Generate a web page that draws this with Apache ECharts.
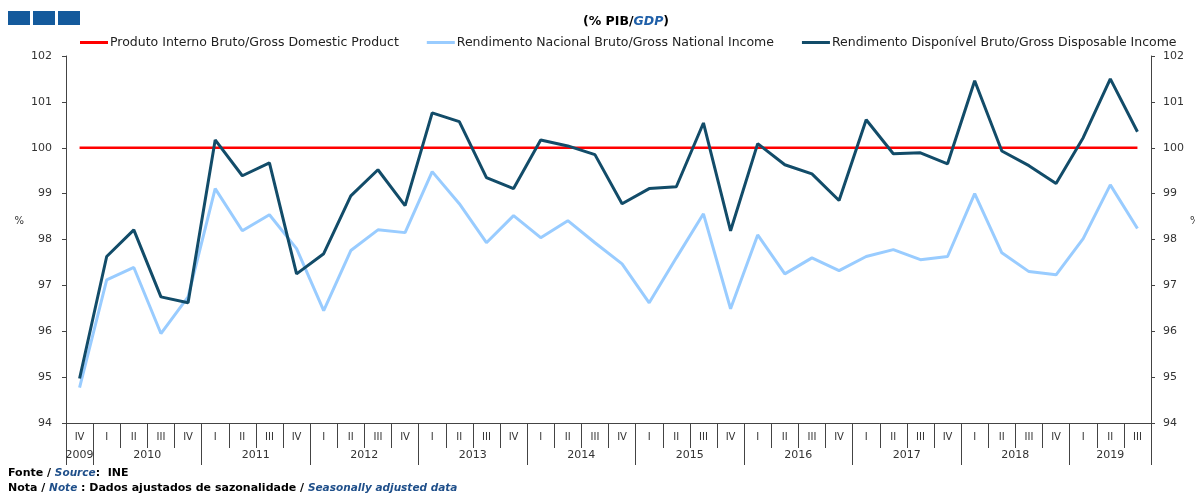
<!DOCTYPE html>
<html>
<head>
<meta charset="utf-8">
<script src="https://cdn.jsdelivr.net/npm/echarts@6/dist/echarts.min.js"></script>
<style>
  html, body { margin: 0; padding: 0; background: #fff; }
  #chart { width: 1195px; height: 494px; }
</style>
</head>
<body>
<div id="chart"></div>
<script>
// quarters 2009 IV .. 2019 III
const quarters = ['IV',
  'I','II','III','IV', 'I','II','III','IV', 'I','II','III','IV',
  'I','II','III','IV', 'I','II','III','IV', 'I','II','III','IV',
  'I','II','III','IV', 'I','II','III','IV', 'I','II','III','IV',
  'I','II','III']
const years = ['2009','2010','2011','2012','2013','2014','2015','2016','2017','2018','2019']
const yearStart = [0, 1, 5, 9, 13, 17, 21, 25, 29, 33, 37]

const gdp = quarters.map(() => 100)
const gni = [94.77,
  97.12, 97.39, 95.95, 96.75,
  99.11, 98.19, 98.54, 97.8,
  96.45, 97.76, 98.21, 98.15,
  99.48, 98.78, 97.93, 98.52,
  98.04, 98.41, 97.93, 97.47,
  96.62, 97.6, 98.56, 96.49,
  98.1, 97.25, 97.6, 97.32,
  97.63, 97.78, 97.56, 97.63,
  99.0, 97.71, 97.3, 97.23,
  98.02, 99.19, 98.24]
const gdi = [94.97,
  97.63, 98.21, 96.75, 96.62,
  100.17, 99.39, 99.67, 97.25,
  97.69, 98.95, 99.52, 98.74,
  100.76, 100.57, 99.35, 99.11,
  100.17, 100.04, 99.85, 98.78,
  99.11, 99.15, 100.54, 98.19,
  100.09, 99.63, 99.43, 98.85,
  100.61, 99.87, 99.89, 99.65,
  101.46, 99.93, 99.61, 99.22,
  100.22, 101.5, 100.35]

// year label sits under quarter II for full years, centred for partial ones
const yearLabels = quarters.map(() => '')
years.forEach((y, i) => {
  const s = yearStart[i]
  const n = (i + 1 < yearStart.length ? yearStart[i + 1] : quarters.length) - s
  if (n === 4) yearLabels[s + 1] = '{s|' + y + '}'
  else yearLabels[s + Math.floor(n / 2)] = '{c|' + y + '}'
})

const font = 'DejaVu Sans, sans-serif'
const axisColor = '#444'

const chart = echarts.init(document.getElementById('chart'))
chart.setOption({
  animation: false,
  textStyle: { fontFamily: font },
  title: [
    {
      text: '{a|(% PIB/}{b|GDP}{a|)}',
      left: 583, top: 15, padding: 0,
      textStyle: {
        rich: {
          a: { fontSize: 12.5, color: '#000', fontFamily: font },
          b: { fontSize: 12.5, color: '#1f5fa8', fontStyle: 'italic', fontWeight: 'bold', fontFamily: font }
        }
      }
    },
    {
      text: '{a|Fonte / }{b|Source}{a|:  INE}\n{a|Nota / }{b|Note}{a| : Dados ajustados de sazonalidade / }{b|Seasonally adjusted data}',
      left: 8, top: 466, padding: 0,
      textStyle: {
        rich: {
          a: { fontSize: 11, fontWeight: 'bold', color: '#000', fontFamily: font, lineHeight: 15 },
          b: { fontSize: 10.5, fontWeight: 'bold', fontStyle: 'italic', color: '#1f4f8a', fontFamily: font, lineHeight: 15 }
        }
      }
    }
  ],
  graphic: [
    { type: 'rect', left: 8, top: 11, shape: { width: 22, height: 14 }, style: { fill: '#145a9c' } },
    { type: 'rect', left: 33, top: 11, shape: { width: 22, height: 14 }, style: { fill: '#145a9c' } },
    { type: 'rect', left: 58, top: 11, shape: { width: 22, height: 14 }, style: { fill: '#145a9c' } }
  ],
  legend: {
    top: 31, left: 75,
    itemWidth: 28, itemHeight: 3, itemGap: 28,
    icon: 'rect',
    textStyle: { fontSize: 12.5, color: '#222', padding: [0, 0, 0, -3] },
    data: ['Produto Interno Bruto/Gross Domestic Product',
      'Rendimento Nacional Bruto/Gross National Income',
      'Rendimento Disponível Bruto/Gross Disposable Income']
  },
  grid: { left: 66, right: 44, top: 56, bottom: 71, outerBoundsMode: 'none', containLabel: false },
  xAxis: [
    {
      type: 'category', position: 'bottom', data: quarters,
      axisLine: { lineStyle: { color: axisColor } },
      axisTick: { show: true, length: 25, lineStyle: { color: axisColor } },
      axisLabel: { interval: 0, fontSize: 10, color: '#333', margin: 9 }
    },
    {
      type: 'category', position: 'bottom', data: yearLabels,
      axisLine: { show: false },
      axisTick: {
        show: true, length: 42, lineStyle: { color: axisColor },
        interval: (i) => yearStart.indexOf(i) >= 0
      },
      axisLabel: {
        interval: 0, margin: 27, color: '#333',
        formatter: (v) => v,
        rich: {
          s: { fontSize: 11, color: '#333', padding: [0, 0, 0, 27] },
          c: { fontSize: 11, color: '#333' }
        }
      }
    }
  ],
  yAxis: [
    {
      type: 'value', position: 'left', min: 94, max: 102, interval: 1,
      name: '%', nameLocation: 'middle', nameGap: 42, nameRotate: 0,
      nameTextStyle: { fontSize: 10, color: '#333', verticalAlign: 'bottom', lineHeight: 36 },
      splitLine: { show: false },
      axisLine: { show: true, lineStyle: { color: axisColor } },
      axisTick: { show: true, length: 4, lineStyle: { color: axisColor } },
      axisLabel: { fontSize: 11, color: '#333', margin: 14 }
    },
    {
      type: 'value', position: 'right', min: 94, max: 102, interval: 1,
      name: '%', nameLocation: 'middle', nameGap: 39, nameRotate: 0,
      nameTextStyle: { fontSize: 10, color: '#333', verticalAlign: 'bottom', lineHeight: 36 },
      splitLine: { show: false },
      axisLine: { show: true, lineStyle: { color: axisColor } },
      axisTick: { show: true, length: 4, lineStyle: { color: axisColor } },
      axisLabel: { fontSize: 11, color: '#333', margin: 12 }
    }
  ],
  series: [
    {
      name: 'Produto Interno Bruto/Gross Domestic Product',
      type: 'line', data: gdp, symbol: 'none', color: '#ff0000',
      lineStyle: { width: 2.5 }
    },
    {
      name: 'Rendimento Nacional Bruto/Gross National Income',
      type: 'line', data: gni, symbol: 'none', color: '#99ccff',
      lineStyle: { width: 3 }
    },
    {
      name: 'Rendimento Disponível Bruto/Gross Disposable Income',
      type: 'line', data: gdi, symbol: 'none', color: '#124c69',
      lineStyle: { width: 3 }
    }
  ]
})
</script>
</body>
</html>
